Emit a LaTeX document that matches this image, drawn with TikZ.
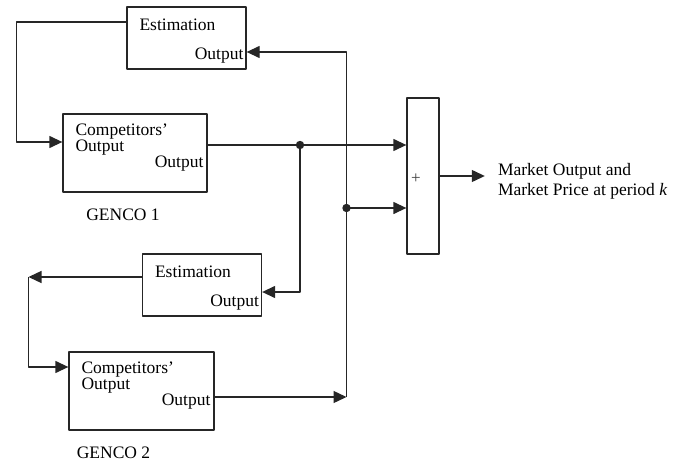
\documentclass[tikz,border=0pt]{standalone}
\usepackage{fontspec}
\setmainfont{Liberation Serif}
\usetikzlibrary{arrows.meta,positioning}
\begin{document}
\begin{tikzpicture}[x=1pt, y=-1pt, font=\fontsize{17.5}{16}\selectfont, line join=round, >={Triangle[length=13pt,width=12pt]},
		blk/.style={draw=black!85, line width=1.3pt, inner sep=0pt},
		wire/.style={draw=black!85, line width=1.3pt},
		txt/.style={inner sep=3pt}]
				\useasboundingbox (0,0) rectangle (684,465);
				% blocks
				\node[blk, minimum width=119pt, minimum height=62pt] (est1) at (186.5,38) {};
				\node[blk, minimum width=144pt, minimum height=78pt] (g1) at (135,153) {};
				\node[blk, minimum width=32pt, minimum height=156pt] (sum) at (423,176) {};
				\node[blk, minimum width=119pt, minimum height=62pt] (est2) at (202,285) {};
				\node[blk, minimum width=145pt, minimum height=78pt] (g2) at (141.5,391) {};
				% texts in the blocks
				\foreach \b in {est1,est2} {
					\node[txt, anchor=west] at ([xshift=10pt,yshift=-18pt]\b.north west) {Estimation};
					\node[txt, anchor=east] at ([yshift=14pt]\b.south east) {Output};
				}
				\foreach \b in {g1,g2} {
					\node[txt, anchor=west, align=left] at ([xshift=10pt,yshift=-26pt]\b.north west) {Competitors'\\Output};
					\node[txt, anchor=east] at ([xshift=-1pt,yshift=29pt]\b.south east) {Output};
				}
				\node[font=\fontsize{17}{17}\selectfont, text=black!75] (plus) at ([xshift=-7pt,yshift=-3pt]sum.center) {+};
				\node[below=13pt of g1, xshift=-12pt] (gen1) {GENCO 1};
				\node[below=13pt of g2, xshift=-28pt] (gen2) {GENCO 2};
				\node[txt, anchor=west, align=left, font=\fontsize{17.5}{20}\selectfont] (mkt) at (494.8,181) {Market Output and\\Market Price at period \textit{k}};
				% junctions and corners
				\path	(300,145) coordinate (j1)
				(346.5,208) coordinate (j2)
				(346.5,397) coordinate (c2)
				(28.5,277) coordinate (c1);
				% connectors
				\draw[wire,->] ([yshift=16pt]est1.west) -- ++(-110,0) |- ([yshift=11pt]g1.west);
				\draw[wire] ([yshift=8pt]g1.east) -- (j1);
				\draw[wire,->] (j1) -- (sum.west |- j1);
				\draw[wire,->] (j1) |- ([yshift=-7pt]est2.east);
				\draw[wire,->] ([yshift=-6pt]g2.east) -- (c2);
				\draw[wire,->] (c2) |- ([yshift=-14pt]est1.east);
				\draw[wire,->] (j2) -- (sum.west |- j2);
				\draw[wire,->] ([yshift=8pt]est2.west) -- (c1);
				\draw[wire,->] (c1) |- ([yshift=24pt]g2.west);
				\draw[wire,->] (sum.east) -- ([xshift=-10pt]sum.east -| mkt.west);
				\foreach \x in {j1,j2} \fill[black!85] (\x) circle (4.2pt);
		\end{tikzpicture}
\end{document}
